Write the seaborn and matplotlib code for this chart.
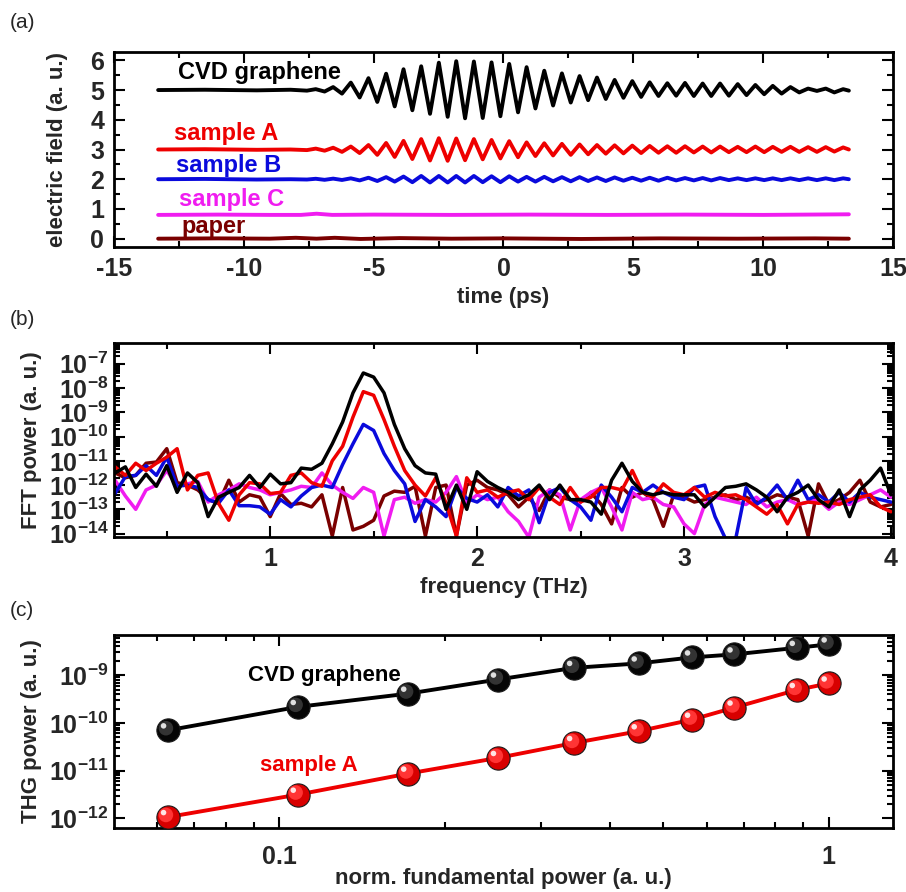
import matplotlib
matplotlib.use("Agg")
import matplotlib.pyplot as plt
import seaborn as sns
import numpy as np
from matplotlib.ticker import MultipleLocator, FixedLocator, FuncFormatter, NullFormatter
from matplotlib.transforms import offset_copy

# ---------------- (a) time-domain traces ----------------
# extrema times (ps) of the ringing, shared by the oscillating traces
ext_t = [-7.57, -7.23, -6.89, -6.56, -6.22, -5.88, -5.54, -5.20, -4.86, -4.52,
         -4.19, -3.85, -3.51, -3.17, -2.83, -2.49, -2.15, -1.82, -1.48, -1.14,
         -0.80, -0.46, -0.12, 0.22, 0.56, 0.89, 1.23, 1.57, 1.91, 2.25,
         2.59, 2.93, 3.26, 3.60, 3.94, 4.28, 4.62, 4.96, 5.30, 5.63,
         5.97, 6.31, 6.65, 6.99, 7.33, 7.67, 8.00, 8.34, 8.68, 9.02,
         9.36, 9.70, 10.04, 10.37, 10.71, 11.05, 11.39, 11.73, 12.07, 12.41,
         12.74, 13.08]
t_head = [-13.3, -11.5, -9.5, -8.2]
t_tail = [13.3]

cvd_field = [5.0, 5.01, 4.99, 5.01,
             4.98, 5.03, 4.95, 5.10, 4.88, 5.25, 4.75, 5.40, 4.60, 5.55,
             4.45, 5.70, 4.32, 5.80, 4.20, 5.92, 4.10, 5.97, 4.05, 5.96,
             4.06, 5.93, 4.12, 5.88, 4.25, 5.77, 4.38, 5.65, 4.48, 5.56,
             4.58, 5.47, 4.66, 5.42, 4.70, 5.34, 4.74, 5.30, 4.77, 5.26,
             4.80, 5.23, 4.81, 5.24, 4.80, 5.22, 4.80, 5.22, 4.81, 5.20,
             4.83, 5.17, 4.86, 5.14, 4.88, 5.10, 4.92, 5.05, 4.97, 5.05,
             4.92, 5.03,
             4.98]
sampleA_field = [3.0, 3.01, 2.99, 3.0,
                 2.98, 3.03, 2.96, 3.06, 2.92, 3.10, 2.88, 3.15, 2.82, 3.22,
                 2.75, 3.29, 2.68, 3.35, 2.63, 3.38, 2.62, 3.37, 2.64, 3.35,
                 2.67, 3.32, 2.70, 3.28, 2.74, 3.24, 2.78, 3.21, 2.80, 3.19,
                 2.82, 3.17, 2.84, 3.15, 2.86, 3.14, 2.87, 3.13, 2.88, 3.12,
                 2.89, 3.11, 2.89, 3.11, 2.90, 3.10, 2.90, 3.10, 2.91, 3.09,
                 2.91, 3.10, 2.91, 3.09, 2.92, 3.09, 2.92, 3.08, 2.92, 3.08,
                 2.93, 3.07,
                 3.0]
sampleB_field = [2.0, 2.01, 1.99, 2.0,
                 1.99, 2.015, 1.98, 2.02, 1.975, 2.03, 1.96, 2.05, 1.94, 2.07,
                 1.92, 2.09, 1.90, 2.11, 1.89, 2.11, 1.89, 2.11, 1.89, 2.11,
                 1.90, 2.10, 1.90, 2.10, 1.92, 2.08, 1.92, 2.08, 1.93, 2.07,
                 1.93, 2.07, 1.94, 2.06, 1.94, 2.06, 1.95, 2.05, 1.95, 2.05,
                 1.95, 2.05, 1.96, 2.04, 1.96, 2.04, 1.96, 2.04, 1.97, 2.03,
                 1.97, 2.03, 1.97, 2.03, 1.97, 2.03, 1.97, 2.03, 1.97, 2.03,
                 1.97, 2.03,
                 2.0]
sampleC_t = [-13.3, -11.0, -9.0, -7.8, -7.2, -6.6, -5.0, -2.0, 1.0, 4.0, 7.0, 10.0, 13.3]
sampleC_field = [0.80, 0.81, 0.80, 0.80, 0.84, 0.80, 0.81, 0.80, 0.81, 0.80, 0.81, 0.80, 0.82]
paper_t = [-13.3, -11.0, -9.0, -8.0, -7.2, -6.5, -5.5, -4.0, -2.0, 0.0, 3.0, 6.0, 9.0, 12.0, 13.3]
paper_field = [0.0, 0.01, 0.0, 0.03, 0.0, 0.03, -0.01, 0.02, 0.0, 0.01, -0.01, 0.01, 0.0, 0.01, 0.0]

# ---------------- (b) FFT spectra, log10 of power ----------------
freq = [0.25, 0.30, 0.35, 0.40, 0.45, 0.50, 0.55, 0.60, 0.65, 0.70,
        0.75, 0.80, 0.85, 0.90, 0.95, 1.00, 1.05, 1.10, 1.15, 1.20,
        1.25, 1.30, 1.35, 1.40, 1.45, 1.50, 1.55, 1.60, 1.65, 1.70,
        1.75, 1.80, 1.85, 1.90, 1.95, 2.00, 2.05, 2.10, 2.15, 2.20,
        2.25, 2.30, 2.35, 2.40, 2.45, 2.50, 2.55, 2.60, 2.65, 2.70,
        2.75, 2.80, 2.85, 2.90, 2.95, 3.00, 3.05, 3.10, 3.15, 3.20,
        3.25, 3.30, 3.35, 3.40, 3.45, 3.50, 3.55, 3.60, 3.65, 3.70,
        3.75, 3.80, 3.85, 3.90, 3.95, 4.00]
cvd_fft = [-11.5, -11.25, -12.1, -11.55, -12.05, -11.2, -12.3, -11.5, -11.9, -13.3,
           -12.5, -12.3, -12.1, -11.6, -12.1, -11.55, -11.95, -11.9, -11.3, -11.35,
           -11.1, -10.3, -9.4, -8.2, -7.38, -7.55, -8.2, -9.5, -10.5, -11.2,
           -11.5, -11.55, -13.0, -12.0, -13.0, -11.45, -11.85, -12.1, -12.3, -12.6,
           -12.4, -12.0, -12.6, -12.0, -12.6, -12.6, -12.7, -13.2, -11.8, -11.1,
           -11.85, -12.3, -12.4, -12.3, -12.4, -12.4, -12.4, -12.9, -12.5, -12.1,
           -12.05, -11.95, -12.2, -12.5, -13.1, -12.5, -12.3, -12.0, -12.6, -12.9,
           -12.2, -13.3, -12.2, -11.8, -11.3, -12.4]
sampleA_fft = [-11.25, -11.6, -11.1, -11.4, -11.1, -10.85, -10.5, -12.2, -11.6, -11.5,
               -12.75, -13.45, -12.4, -11.9, -11.95, -12.35, -12.3, -11.6, -11.5, -11.9,
               -12.05, -11.0, -10.4, -9.2, -8.15, -8.3, -9.3, -10.4, -11.4, -12.0,
               -12.45, -11.7, -12.75, -14.1, -11.7, -12.3, -12.2, -12.5, -12.3, -12.2,
               -12.6, -12.1, -12.5, -12.8, -12.1, -12.7, -12.5, -12.1, -12.1, -12.2,
               -11.4, -12.3, -12.5, -11.95, -12.3, -12.4, -12.1, -12.5, -12.3, -12.45,
               -12.4, -12.6, -12.9, -13.2, -12.8, -13.6, -12.8, -12.7, -12.75, -12.7,
               -12.8, -12.6, -12.5, -12.4, -12.9, -13.1]
sampleB_fft = [-12.35, -11.65, -11.6, -11.2, -11.6, -10.85, -12.05, -12.0, -12.1, -12.6,
               -12.75, -12.2, -12.85, -12.85, -12.9, -13.2, -12.6, -12.9, -12.45, -12.1,
               -12.0, -12.1, -11.15, -10.3, -9.5, -9.75, -10.7, -11.4, -11.95, -13.5,
               -12.6, -12.9, -13.3, -12.1, -12.55, -12.7, -12.4, -12.9, -12.1, -12.45,
               -12.2, -13.55, -12.3, -12.1, -12.6, -12.9, -13.45, -12.0, -12.5, -13.1,
               -12.1, -12.3, -12.0, -12.3, -12.5, -12.6, -12.1, -12.0, -13.3, -14.2,
               -14.2, -12.1, -12.8, -12.5, -12.0, -12.6, -11.8, -12.6, -12.4, -12.7,
               -12.3, -12.7, -12.3, -12.5, -12.6, -12.7]
sampleC_fft = [-11.8, -12.45, -13.0, -12.2, -12.0, -11.4, -12.05, -11.95, -11.85, -12.7,
               -12.4, -12.2, -11.95, -12.1, -12.2, -12.4, -12.3, -12.2, -12.05, -12.1,
               -11.5, -12.0, -12.3, -12.55, -12.1, -12.3, -14.1, -12.6, -12.5, -12.75,
               -12.6, -12.7, -12.3, -11.65, -12.75, -12.4, -12.6, -12.5, -13.1, -13.5,
               -14.15, -12.5, -12.2, -12.4, -13.85, -12.6, -12.3, -12.1, -12.9, -13.85,
               -12.3, -12.6, -12.5, -12.8, -12.9, -13.6, -14.0, -12.8, -12.5, -12.6,
               -12.7, -12.8, -12.5, -12.9, -12.7, -12.6, -12.8, -12.7, -12.6, -13.0,
               -12.7, -12.8, -12.6, -12.4, -12.2, -12.5]
paper_fft = [-11.5, -11.7, -11.6, -11.1, -11.05, -10.5, -11.9, -12.0, -12.2, -12.6,
             -12.75, -11.8, -12.7, -12.4, -12.5, -13.3, -12.35, -12.8, -12.75, -12.9,
             -12.4, -14.1, -12.1, -13.85, -13.7, -13.45, -12.45, -12.25, -12.3, -12.05,
             -14.1, -12.1, -12.0, -14.1, -12.0, -11.8, -12.1, -12.2, -12.4, -12.9,
             -12.5, -13.05, -12.2, -12.5, -12.6, -12.7, -12.3, -12.8, -13.6, -12.1,
             -12.5, -12.3, -12.6, -13.7, -12.4, -12.5, -12.7, -12.6, -12.5, -12.4,
             -12.6, -12.5, -12.7, -12.6, -12.4, -12.5, -12.6, -14.1, -11.95, -12.8,
             -12.6, -12.3, -11.8, -12.7, -12.9, -12.8]

# ---------------- (c) THG power vs fundamental power ----------------
fund_power = [0.0627, 0.108, 0.1716, 0.25, 0.344, 0.451, 0.564, 0.674, 0.875, 1.0]
thg_cvd = [7.0e-11, 2.16e-10, 4.1e-10, 8.1e-10, 1.42e-9, 1.76e-9, 2.35e-9, 2.72e-9, 3.73e-9, 4.4e-9]
thg_sampleA = [1.07e-12, 3.15e-12, 8.7e-12, 1.85e-11, 3.8e-11, 6.7e-11, 1.17e-10, 2.1e-10, 4.9e-10, 6.7e-10]

# tick positions
fft_decades = [1e-14, 1e-13, 1e-12, 1e-11, 1e-10, 1e-9, 1e-8, 1e-7]
thg_decades = [1e-12, 1e-11, 1e-10, 1e-9]
power_major = [0.1, 1.0]
power_minor = [0.06, 0.07, 0.08, 0.09, 0.2, 0.3, 0.4, 0.5, 0.6, 0.7, 0.8, 0.9]

C_BLACK = "#000000"
C_RED = "#ee0000"
C_BLUE = "#0a0adc"
C_MAG = "#f01cf0"
C_MAROON = "#7a0000"

sns.set_theme(style="ticks")
plt.rcParams["font.family"] = ["Liberation Sans", "DejaVu Sans"]
plt.rcParams["font.weight"] = "bold"
plt.rcParams["axes.labelweight"] = "bold"
plt.rcParams["axes.unicode_minus"] = False
plt.rcParams["mathtext.fontset"] = "custom"
plt.rcParams["mathtext.rm"] = "Liberation Sans:bold"
plt.rcParams["mathtext.bf"] = "Liberation Sans:bold"
plt.rcParams["mathtext.it"] = "Liberation Sans:bold"
plt.rcParams["lines.solid_joinstyle"] = "round"

FS = 16      # axis labels
TFS = 18     # tick labels
W = 906.0
H = 892.0


def px_axes(left, top, right, bottom):
    return fig.add_axes([left / W, 1 - bottom / H, (right - left) / W, (bottom - top) / H])


def style_axes(ax):
    for s in ax.spines.values():
        s.set_linewidth(2.0)
        s.set_color("black")
    ax.tick_params(which="both", direction="in", top=True, right=True,
                   width=1.5, color="black", labelsize=TFS, pad=7)
    ax.tick_params(which="major", length=8)
    ax.tick_params(which="minor", length=4)
    for lab in ax.get_xticklabels() + ax.get_yticklabels():
        lab.set_fontweight("bold")


def log_label(v, p):
    return r"$\mathbf{10^{%d}}$" % round(np.log10(v))


def minor_decades(decades):
    return [d * k for d in decades[:-1] for k in range(2, 10)]


fig = plt.figure(figsize=(9.06, 8.92), dpi=100)

# ---------- panel (a) ----------
ax1 = px_axes(114, 52, 893, 247)
full_t = t_head + ext_t + t_tail
sns.lineplot(x=paper_t, y=paper_field, ax=ax1, color=C_MAROON, lw=2.8, estimator=None, sort=False)
sns.lineplot(x=sampleC_t, y=sampleC_field, ax=ax1, color=C_MAG, lw=2.8, estimator=None, sort=False)
sns.lineplot(x=full_t, y=sampleB_field, ax=ax1, color=C_BLUE, lw=2.8, estimator=None, sort=False)
sns.lineplot(x=full_t, y=sampleA_field, ax=ax1, color=C_RED, lw=2.8, estimator=None, sort=False)
sns.lineplot(x=full_t, y=cvd_field, ax=ax1, color=C_BLACK, lw=2.8, estimator=None, sort=False)
ax1.set_xlim(-15, 15)
ax1.set_ylim(-0.28, 6.28)
ax1.xaxis.set_major_locator(MultipleLocator(5))
ax1.xaxis.set_minor_locator(MultipleLocator(2.5))
ax1.yaxis.set_major_locator(MultipleLocator(1))
ax1.yaxis.set_minor_locator(MultipleLocator(0.5))
ax1.set_xlabel("time (ps)", fontsize=FS)
ax1.set_ylabel("electric field (a. u.)", fontsize=FS)
ax1.xaxis.set_label_coords(0.5, -0.205)
ax1.yaxis.set_label_coords(-0.059, 0.5)
style_axes(ax1)
ax1.text(-12.55, 5.6, "CVD graphene", color=C_BLACK, fontsize=17, fontweight="bold", va="center")
ax1.text(-12.7, 3.55, "sample A", color=C_RED, fontsize=17, fontweight="bold", va="center")
ax1.text(-12.6, 2.46, "sample B", color=C_BLUE, fontsize=17, fontweight="bold", va="center")
ax1.text(-12.5, 1.31, "sample C", color=C_MAG, fontsize=17, fontweight="bold", va="center")
ax1.text(-12.4, 0.40, "paper", color=C_MAROON, fontsize=17, fontweight="bold", va="center")

# ---------- panel (b) ----------
ax2 = px_axes(114, 343, 893, 537)
spectra = [(paper_fft, C_MAROON), (sampleC_fft, C_MAG), (sampleB_fft, C_BLUE),
           (sampleA_fft, C_RED), (cvd_fft, C_BLACK)]
for vals, col in spectra:
    sns.lineplot(x=freq, y=np.power(10.0, vals), ax=ax2, color=col, lw=2.5,
                 estimator=None, sort=False)
ax2.set_yscale("log")
ax2.set_xlim(0.245, 4.01)
ax2.set_ylim(10 ** -14.14, 10 ** -6.145)
ax2.xaxis.set_major_locator(MultipleLocator(1))
ax2.xaxis.set_minor_locator(MultipleLocator(0.5))
ax2.yaxis.set_major_locator(FixedLocator(fft_decades))
ax2.yaxis.set_minor_locator(FixedLocator(minor_decades(fft_decades) + [2e-7, 3e-7, 4e-7, 5e-7, 6e-7]))
ax2.yaxis.set_major_formatter(FuncFormatter(log_label))
ax2.yaxis.set_minor_formatter(NullFormatter())
ax2.xaxis.set_major_formatter(FuncFormatter(lambda v, p: "%g" % v))
ax2.set_xlabel("frequency (THz)", fontsize=FS)
ax2.set_ylabel("FFT power (a. u.)", fontsize=FS)
ax2.xaxis.set_label_coords(0.5, -0.206)
ax2.yaxis.set_label_coords(-0.092, 0.5)
style_axes(ax2)
ax2.tick_params(axis="y", which="both", pad=4)

# ---------- panel (c) ----------
ax3 = px_axes(114, 635, 893, 828)
sns.lineplot(x=fund_power, y=thg_cvd, ax=ax3, color=C_BLACK, lw=2.8, estimator=None, sort=False)
sns.lineplot(x=fund_power, y=thg_sampleA, ax=ax3, color=C_RED, lw=2.8, estimator=None, sort=False)
# sphere-like markers: base, lighter body, highlight
hl1 = offset_copy(ax3.transData, fig=fig, x=-1.5, y=1.5, units="points")
hl2 = offset_copy(ax3.transData, fig=fig, x=-3.2, y=3.2, units="points")
for yv, base, mid, hi in [(thg_cvd, "#050505", "#333333", "#e0e0e0"),
                          (thg_sampleA, "#d80000", "#ff3434", "#ffe4e4")]:
    sns.scatterplot(x=fund_power, y=yv, ax=ax3, s=280, color=base, edgecolor="#1a1a1a",
                    linewidth=0.8, zorder=3)
    ax3.scatter(fund_power, yv, s=110, color=mid, edgecolor="none", zorder=4, transform=hl1)
    ax3.scatter(fund_power, yv, s=16, color=hi, edgecolor="none", zorder=5, transform=hl2)
ax3.set_xscale("log")
ax3.set_yscale("log")
ax3.set_xlim(0.05, 1.31)
ax3.set_ylim(10 ** -12.2, 10 ** -8.16)
ax3.xaxis.set_major_locator(FixedLocator(power_major))
ax3.xaxis.set_minor_locator(FixedLocator(power_minor))
ax3.xaxis.set_major_formatter(FuncFormatter(lambda v, p: "%g" % v))
ax3.xaxis.set_minor_formatter(NullFormatter())
ax3.yaxis.set_major_locator(FixedLocator(thg_decades))
ax3.yaxis.set_minor_locator(FixedLocator(minor_decades(thg_decades) + [2e-9, 3e-9, 4e-9, 5e-9, 6e-9]))
ax3.yaxis.set_major_formatter(FuncFormatter(log_label))
ax3.yaxis.set_minor_formatter(NullFormatter())
ax3.set_xlabel("norm. fundamental power (a. u.)", fontsize=FS)
ax3.set_ylabel("THG power (a. u.)", fontsize=FS)
ax3.xaxis.set_label_coords(0.5, -0.205)
ax3.yaxis.set_label_coords(-0.092, 0.5)
style_axes(ax3)
ax3.tick_params(axis="y", which="both", pad=4)
ax3.tick_params(axis="x", which="both", pad=12)
ax3.text(0.121, 1.0e-9, "CVD graphene", color=C_BLACK, fontsize=16, fontweight="bold",
         ha="center", va="center")
ax3.text(0.113, 1.28e-11, "sample A", color=C_RED, fontsize=16, fontweight="bold",
         ha="center", va="center")

# panel letters
for lab, ypx in [("(a)", 22), ("(b)", 320), ("(c)", 610)]:
    fig.text(10 / W, 1 - ypx / H, lab, fontsize=15, fontweight="normal", va="center", ha="left")

fig.savefig("out.png", dpi=100)
